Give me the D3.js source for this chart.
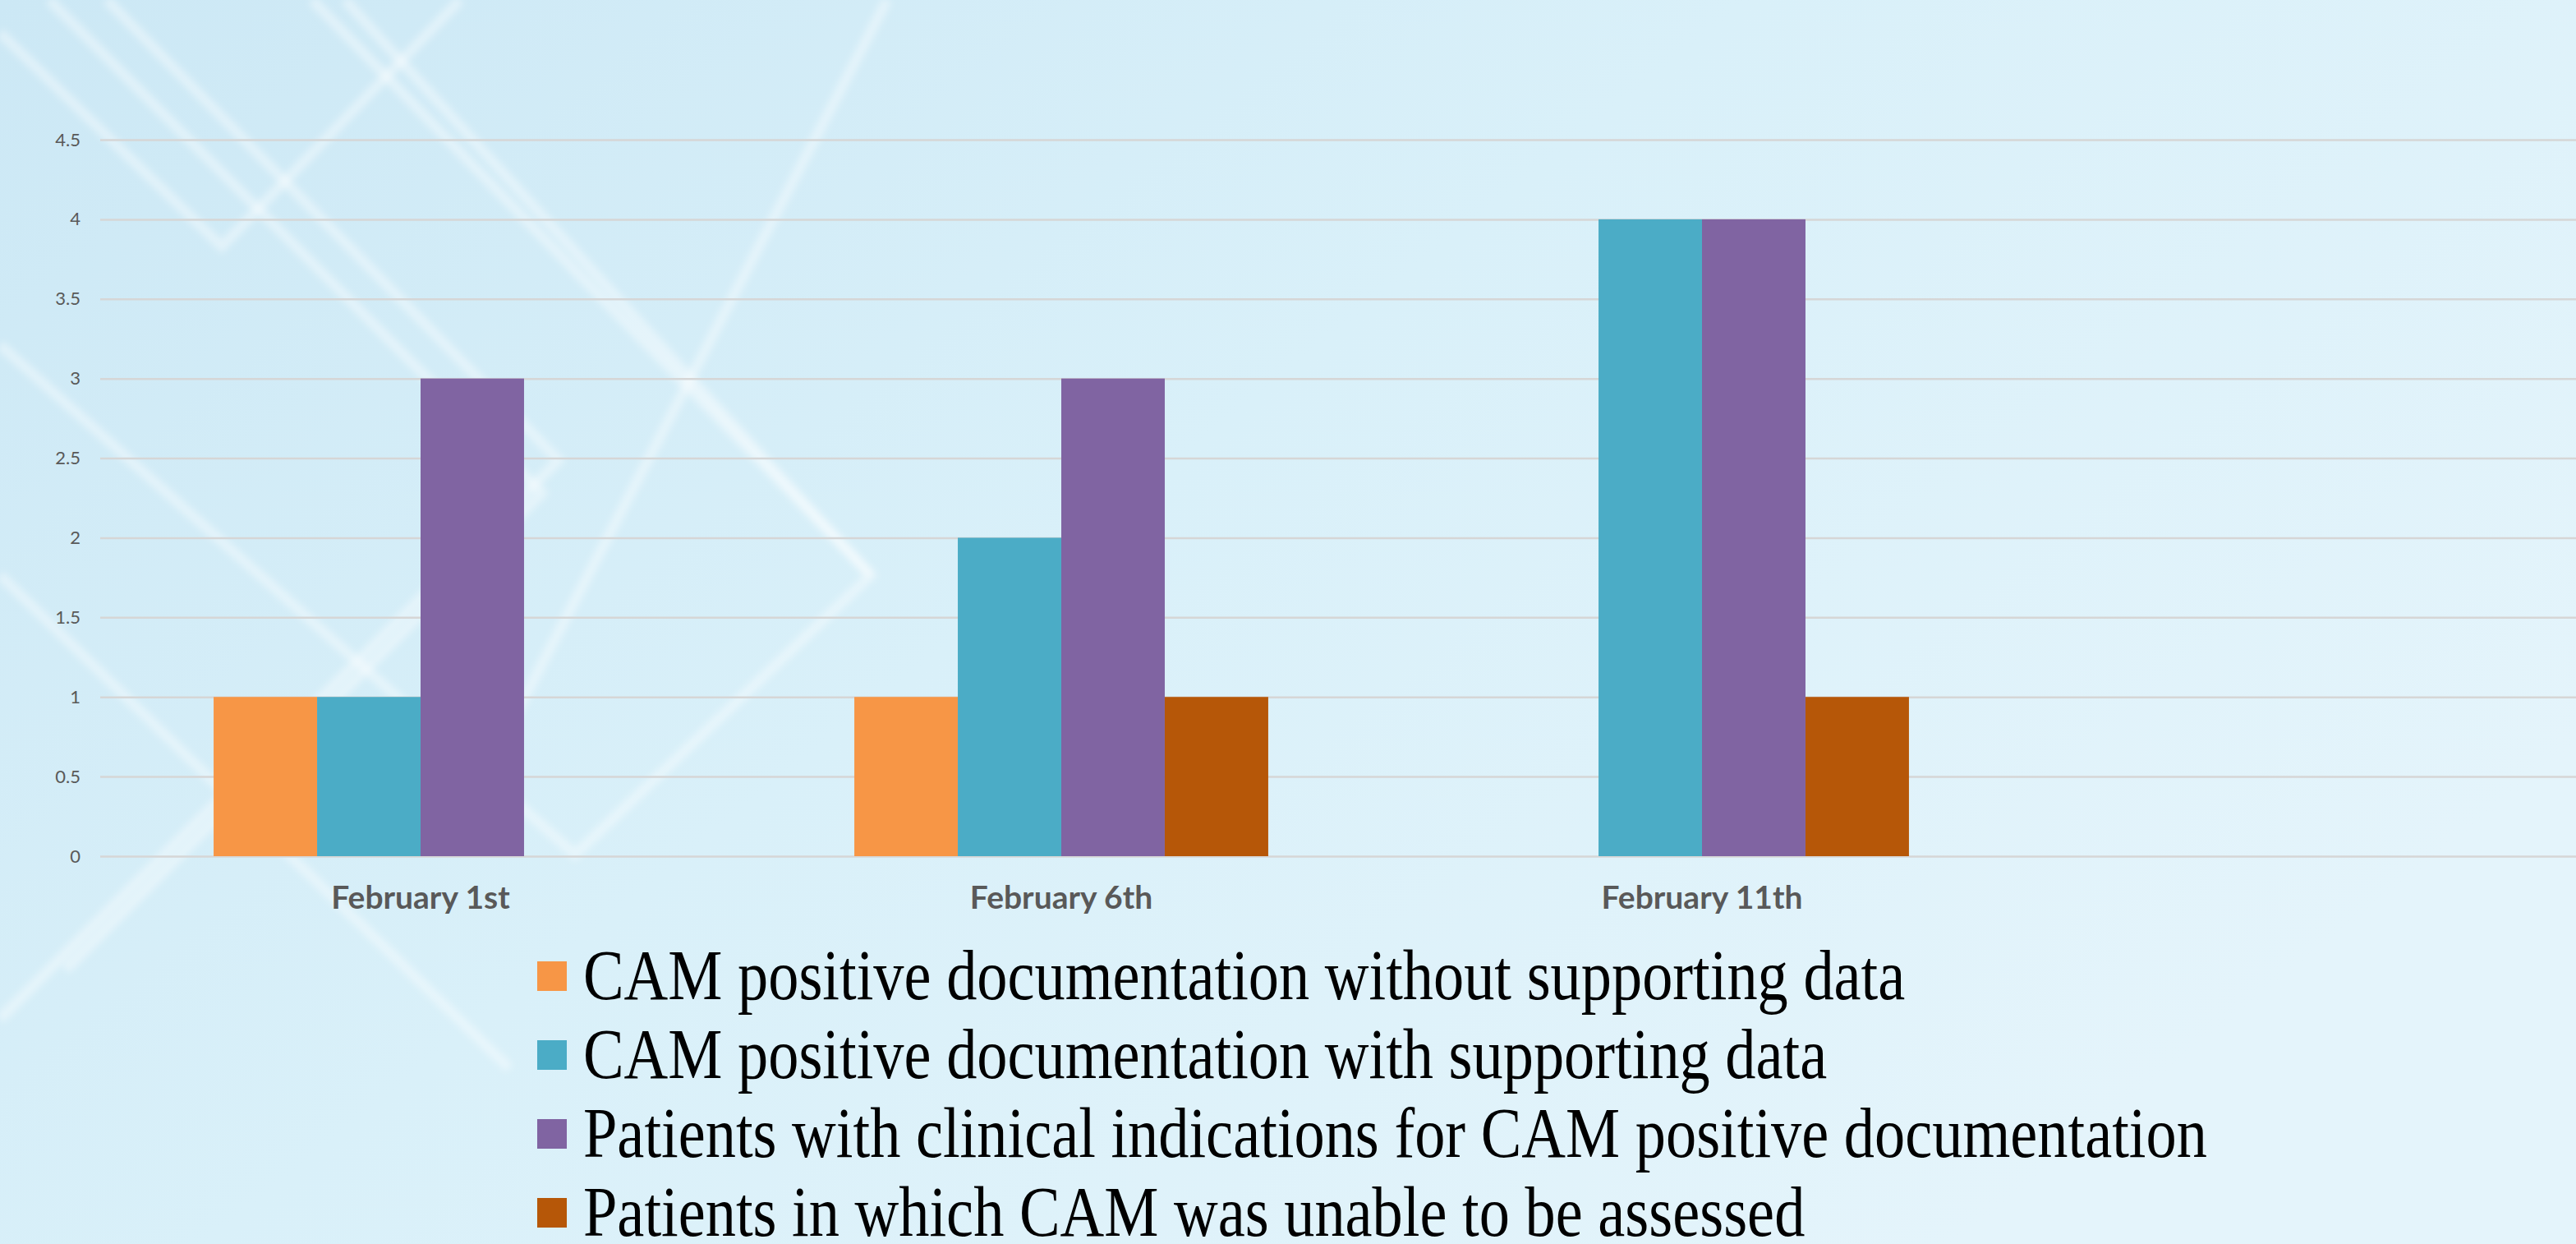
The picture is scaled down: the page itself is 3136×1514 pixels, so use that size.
<!DOCTYPE html>
<html>
<head>
<meta charset="utf-8">
<script src="https://cdn.jsdelivr.net/npm/d3@7"></script>
<style>
  body { margin: 0; overflow: hidden; }
  svg { display: block; }
</style>
</head>
<body>
<script>
// data
const dates = ["February 1st", "February 6th", "February 11th"];
const seriesNames = [
    "CAM positive documentation without supporting data",
    "CAM positive documentation with supporting data",
    "Patients with clinical indications for CAM positive documentation",
    "Patients in which CAM was unable to be assessed"
];
const withoutData = [1, 1, 0];
const withData = [1, 2, 4];
const clinical = [3, 3, 4];
const unable = [0, 1, 1];
const colors = ["#F79646", "#4BACC6", "#8064A2", "#B65708"];
const yTicks = [0, 0.5, 1, 1.5, 2, 2.5, 3, 3.5, 4, 4.5];

const allSeries = [withoutData, withData, clinical, unable];

const w = 3136;
const h = 1514;

const svg = d3.select("body")
    .append("svg")
        .attr("width", w)
        .attr("height", h)

// background, roughly the slide theme
const defs = svg.append("defs");
const grad = defs.append("linearGradient")
    .attr("id", "bg")
    .attr("x1", "0").attr("y1", "0")
    .attr("x2", "1").attr("y2", "0.6")
grad.append("stop").attr("offset", "0").attr("stop-color", "#cce8f5")
grad.append("stop").attr("offset", "0.5").attr("stop-color", "#d9f0f9")
grad.append("stop").attr("offset", "1").attr("stop-color", "#e4f4fb")
svg.append("rect")
    .attr("width", w)
    .attr("height", h)
    .attr("fill", "url(#bg)")

defs.append("filter")
    .attr("id", "soft")
    .append("feGaussianBlur")
        .attr("stdDeviation", 4)

// faint white diagonal lines (decoration)
const deco = svg.append("g")
    .attr("fill", "none")
    .attr("stroke", "#ffffff")
    .attr("stroke-opacity", 0.4)
    .attr("stroke-width", 12)
    .attr("filter", "url(#soft)")
const decoLines = [
    [[0, 40], [270, 300], [560, 0]],
    [[130, 0], [680, 560], [0, 1240]],
    [[60, 0], [660, 600], [80, 1180]],
    [[0, 420], [700, 1040], [1060, 700], [380, 0]],
    [[420, 0], [1060, 700]],
    [[1080, 0], [560, 1000]],
    [[0, 700], [620, 1300]]
];
decoLines.forEach(pts => {
    deco.append("path").attr("d", d3.line()(pts))
})

const left = 122;
const step = 780;

const x = d3.scaleBand()
    .domain(dates)
    .range([left, left + step * dates.length])
    .paddingInner(0.354)
    .paddingOuter(0.177)

const xs = d3.scaleBand()
    .domain(d3.range(allSeries.length))
    .range([0, x.bandwidth()])

const y = d3.scaleLinear()
    .domain([0, 4.5])
    .range([1042, 170])

// gridlines + tick labels
const yAxis = svg.append("g")
    .attr("transform", "translate(" + left + ",0)")
    .call(d3.axisLeft(y)
        .tickValues(yTicks)
        .tickSize(-(w - left))
        .tickPadding(24)
        .tickFormat(d => d))
yAxis.select(".domain").remove()
yAxis.selectAll(".tick line")
    .attr("stroke", "#d6d6d6")
    .attr("stroke-width", 2.5)
yAxis.selectAll(".tick text")
    .attr("fill", "#595959")
    .style("font-family", "Lato, 'Open Sans', sans-serif")
    .style("font-size", "22px")

// bars
allSeries.forEach((vals, si) => {
    svg.append("g")
        .selectAll("rect")
        .data(vals)
        .enter()
        .append("rect")
            .attr("x", (d, i) => x(dates[i]) + xs(si))
            .attr("y", d => y(d))
            .attr("width", xs.bandwidth())
            .attr("height", d => y(0) - y(d))
            .attr("fill", colors[si])
})

// category labels
const xAxis = svg.append("g")
    .attr("transform", "translate(0," + y(0) + ")")
    .call(d3.axisBottom(x).tickSize(0).tickPadding(36))
xAxis.select(".domain").remove()
xAxis.selectAll(".tick text")
    .attr("fill", "#595959")
    .style("font-family", "Lato, sans-serif")
    .style("font-weight", "bold")
    .style("font-size", "39px")

// legend
const legend = svg.append("g")
    .attr("id", "legend")

seriesNames.forEach((name, i) => {
    const yy = 1188 + i * 96;
    legend.append("rect")
        .attr("x", 654)
        .attr("y", yy - 18)
        .attr("width", 36)
        .attr("height", 36)
        .attr("fill", colors[i])
    legend.append("text")
        .attr("transform", "translate(710," + (yy + 28) + ") scale(0.865,1)")
        .attr("fill", "#000000")
        .style("font-family", "'Liberation Serif', 'Times New Roman', serif")
        .style("font-size", "86px")
        .text(name)
})
</script>
</body>
</html>
